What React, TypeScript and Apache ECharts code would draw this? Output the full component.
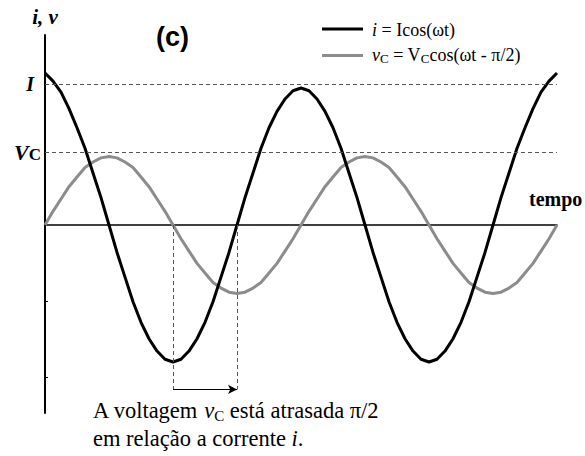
import React, { useEffect, useRef } from "react";
import * as echarts from "echarts";

// Time axis in 1/32 of a period (two full periods)
const steps: number[] = Array.from({ length: 65 }, (_, k) => k);

// Current i(t) = I cos(wt), in units of the peak current
const currentValues: number[] = [
  1.11, 1.05, 0.97, 0.85, 0.71, 0.56, 0.38, 0.2, 0, -0.2, -0.38, -0.56, -0.71, -0.83, -0.92, -0.98, -1.0,
  -0.98, -0.92, -0.83, -0.71, -0.56, -0.38, -0.2, 0, 0.2, 0.38, 0.56, 0.71, 0.83, 0.92, 0.98, 1.0,
  0.98, 0.92, 0.83, 0.71, 0.56, 0.38, 0.2, 0, -0.2, -0.38, -0.56, -0.71, -0.83, -0.92, -0.98, -1.0,
  -0.98, -0.92, -0.83, -0.71, -0.56, -0.38, -0.2, 0, 0.2, 0.38, 0.56, 0.71, 0.85, 0.97, 1.05, 1.11,
];

// Capacitor voltage v_C(t) = V_C cos(wt - pi/2)
const voltageValues: number[] = [
  0, 0.1, 0.19, 0.28, 0.35, 0.42, 0.46, 0.49, 0.5, 0.49, 0.46, 0.42, 0.35, 0.28, 0.19, 0.1, 0,
  -0.1, -0.19, -0.28, -0.35, -0.42, -0.46, -0.49, -0.5, -0.49, -0.46, -0.42, -0.35, -0.28, -0.19, -0.1, 0,
  0.1, 0.19, 0.28, 0.35, 0.42, 0.46, 0.49, 0.5, 0.49, 0.46, 0.42, 0.35, 0.28, 0.19, 0.1, 0,
  -0.1, -0.19, -0.28, -0.35, -0.42, -0.46, -0.49, -0.5, -0.49, -0.46, -0.42, -0.35, -0.28, -0.19, -0.1, 0,
];

// Reference levels: peak current I and peak voltage V_C
const levelI = 1.03;
const levelV = 0.525;

// Small tick marks on the lower part of the vertical axis
const yTicks: number[] = [-0.555, -1.11];

// Phase-lag marker: from the v_C zero crossing to the i zero crossing
const lagStart = 16;
const lagEnd = 24;
const lagDepth = -1.2;

const BLACK = "#000000";
const GRAY = "#8c8c8c";

const serif = "'Liberation Serif', 'Times New Roman', Times, serif";
const sans = "'Liberation Sans', Arial, Helvetica, sans-serif";

const txt = (extra: Record<string, unknown> = {}) => ({
  fontFamily: serif,
  fontSize: 18,
  fill: BLACK,
  lineHeight: 20,
  ...extra,
});

export default function App() {
  const ref = useRef<HTMLDivElement>(null);

  useEffect(() => {
    if (!ref.current) return;
    const chart = echarts.init(ref.current, undefined, { renderer: "svg" });

    const legendRich = {
      t: txt(),
      it: txt({ fontStyle: "italic" }),
      sub: txt({ fontSize: 13, verticalAlign: "bottom", lineHeight: 7 }),
    };
    const noteRich = {
      t: txt({ fontSize: 22.5, lineHeight: 26 }),
      it: txt({ fontSize: 22.5, lineHeight: 26, fontStyle: "italic" }),
      sub: txt({ fontSize: 15, verticalAlign: "bottom", lineHeight: 9 }),
    };

    chart.setOption({
      animation: false,
      backgroundColor: "#ffffff",
      grid: { left: 45, right: 28, top: 35, bottom: 43, outerBoundsMode: "none" },
      xAxis: {
        type: "value",
        min: 0,
        max: 64,
        axisLine: { lineStyle: { color: BLACK, width: 1.5 } },
        axisTick: { show: false },
        axisLabel: { show: false },
        splitLine: { show: false },
      },
      yAxis: {
        type: "value",
        min: -1.372,
        max: 1.387,
        name: "i, v",
        nameLocation: "end",
        nameGap: 8,
        nameTextStyle: {
          fontFamily: serif,
          fontSize: 21,
          fontWeight: "bold",
          fontStyle: "italic",
          color: BLACK,
          align: "center",
        },
        axisLine: { onZero: false, lineStyle: { color: BLACK, width: 2 } },
        axisTick: {
          show: true,
          inside: true,
          length: 3,
          customValues: yTicks,
          lineStyle: { color: BLACK, width: 1 },
        },
        axisLabel: { show: false },
        splitLine: { show: false },
      },
      graphic: [
        {
          type: "text",
          left: 156,
          top: 23,
          style: { text: "(c)", fontFamily: sans, fontWeight: "bold", fontSize: 27, fill: BLACK },
        },
        {
          type: "text",
          left: 529,
          top: 189,
          style: { text: "tempo", fontFamily: serif, fontWeight: "bold", fontSize: 20, fill: BLACK },
        },
        // Legend
        { type: "line", shape: { x1: 322, y1: 29, x2: 363, y2: 29 }, style: { stroke: BLACK, lineWidth: 3 } },
        { type: "line", shape: { x1: 322, y1: 55.5, x2: 363, y2: 55.5 }, style: { stroke: GRAY, lineWidth: 3 } },
        {
          type: "text",
          left: 372,
          top: 21,
          style: { text: "{it|i}{t| = Icos(ωt)}", rich: legendRich },
        },
        {
          type: "text",
          left: 372,
          top: 46,
          style: { text: "{it|v}{sub|C}{t| = V}{sub|C}{t|cos(ωt - π/2)}", rich: legendRich },
        },
        // Note under the chart
        {
          type: "text",
          left: 93,
          top: 399,
          style: { text: "{t|A voltagem }{it|v}{sub|C}{t| está atrasada π/2}", rich: noteRich },
        },
        {
          type: "text",
          left: 93,
          top: 427,
          style: { text: "{t|em relação a corrente }{it|i}{t|.}", rich: noteRich },
        },
      ],
      series: [
        {
          name: "i",
          type: "line",
          data: steps.map((k, idx) => [k, currentValues[idx]]),
          showSymbol: false,
          color: BLACK,
          lineStyle: { color: BLACK, width: 3 },
          z: 3,
          markLine: {
            silent: true,
            symbol: "none",
            lineStyle: { color: "#555", width: 1, type: [4, 3] },
            data: [
              {
                yAxis: levelI,
                label: {
                  position: "start",
                  distance: 11,
                  formatter: "I",
                  fontFamily: serif,
                  fontSize: 20,
                  fontWeight: "bold",
                  fontStyle: "italic",
                  color: BLACK,
                },
              },
              {
                yAxis: levelV,
                label: {
                  position: "start",
                  distance: 4,
                  formatter: "{v|V}{c|C}",
                  rich: {
                    v: { fontFamily: serif, fontSize: 22, fontWeight: "bold", fontStyle: "italic", color: BLACK, lineHeight: 22 },
                    c: { fontFamily: serif, fontSize: 17, fontWeight: "bold", color: BLACK, verticalAlign: "bottom", lineHeight: 16 },
                  },
                },
              },
              [
                { coord: [lagStart, 0] },
                { coord: [lagStart, lagDepth] },
              ],
              [
                { coord: [lagEnd, 0] },
                { coord: [lagEnd, lagDepth] },
              ],
            ],
          },
        },
        {
          name: "v",
          type: "line",
          data: steps.map((k, idx) => [k, voltageValues[idx]]),
          showSymbol: false,
          color: GRAY,
          lineStyle: { color: GRAY, width: 3 },
          z: 2,
          markLine: {
            silent: true,
            symbol: ["none", "arrow"],
            symbolSize: [7, 9],
            lineStyle: { color: BLACK, width: 1, type: "solid" },
            label: { show: false },
            data: [
              [
                { coord: [lagStart, lagDepth] },
                { coord: [lagEnd, lagDepth] },
              ],
            ],
          },
        },
      ],
    });

    return () => chart.dispose();
  }, []);

  return (
    <div
      ref={ref}
      style={{ position: "fixed", left: 0, top: 0, width: 585, height: 456 }}
    />
  );
}
